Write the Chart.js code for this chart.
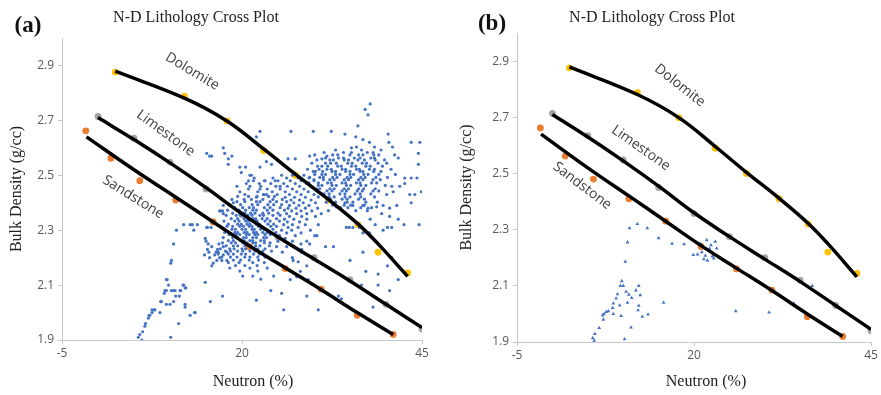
<!DOCTYPE html>
<html>
<head>
<meta charset="utf-8">
<script src="https://cdn.jsdelivr.net/npm/chart.js@4.4.0/dist/chart.umd.min.js"></script>
<style>
  html, body { margin: 0; padding: 0; background: #fff; }
  #wrap { position: relative; width: 881px; height: 395px; overflow: hidden; }
  canvas { position: absolute; top: 0; }
  #chartA { left: 0; }
  #chartB { left: 440px; }
</style>
</head>
<body>
<div id="wrap">
  <canvas id="chartA" width="440" height="395"></canvas>
  <canvas id="chartB" width="441" height="395"></canvas>
</div>
<script>
// N-D lithology cross plot, two panels

// axis ticks
const xTicks = [-5, 20, 45];
const yTicks = [1.9, 2.1, 2.3, 2.5, 2.7, 2.9];

// lithology reference points
const dolomiteX = [2.4, 12, 17.9, 23, 27.4, 32, 36.1, 38.9, 43];
const dolomiteY = [2.876, 2.788, 2.698, 2.59, 2.5, 2.41, 2.32, 2.22, 2.144];
const limestoneX = [0, 5, 10, 15, 20, 25, 30, 35, 40, 45];
const limestoneY = [2.714, 2.635, 2.548, 2.45, 2.357, 2.275, 2.2, 2.12, 2.03, 1.94];
const sandstoneX = [-1.7, 1.8, 5.8, 10.8, 16, 21, 26, 31, 36, 41];
const sandstoneY = [2.662, 2.562, 2.48, 2.41, 2.33, 2.24, 2.16, 2.085, 1.99, 1.92];

// fitted trend lines
const dolomiteFitX = [2.4, 12, 17.9, 23, 27.4, 32, 36.1, 38.9, 43];
const dolomiteFitY = [2.879, 2.781, 2.698, 2.596, 2.504, 2.412, 2.323, 2.25, 2.132];
const limestoneFitX = [0, 5, 10, 15, 20, 25, 30, 35, 40, 45];
const limestoneFitY = [2.71, 2.63, 2.545, 2.455, 2.36, 2.275, 2.195, 2.115, 2.03, 1.945];
const sandstoneFitX = [-1.6, 5, 10.8, 16, 21, 26, 31, 36, 41];
const sandstoneFitY = [2.64, 2.52, 2.42, 2.33, 2.243, 2.163, 2.083, 2.0, 1.92];

// panel (a) well log points: [neutron, density]
const tailA = [[5.6,1.91],[6.1,1.90],[6.2,1.93],[5.8,1.92],[6.5,1.95],[6.6,1.96],[7.0,1.98],[7.1,1.99],[7.2,1.99],[7.5,2.00],[7.5,2.01],[7.8,2.01],[7.9,2.01],[8.6,2.00],[8.7,2.04],[8.8,2.04],[9.2,2.07],[9.3,2.08],[9.5,2.08],[9.5,2.12],[9.6,2.12],[9.8,2.10],[9.5,2.03],[10.0,2.03],[10.2,2.08],[10.5,2.08],[10.7,2.08],[10.5,2.04],[10.8,2.06],[11.2,1.96],[11.3,2.06],[11.4,2.08],[11.5,2.08],[11.8,2.10],[11.9,2.10],[12.1,2.09],[12.2,2.09],[12.1,2.03],[12.1,2.02],[12.8,1.99],[13.4,2.00],[13.5,2.00],[10.1,1.91],[10.1,2.18],[10.2,2.19],[10.5,2.25],[10.9,2.30],[14.9,2.11],[15.6,2.04],[17.3,2.06],[15.8,2.17]];
const sparseA = [[11.9,2.32],[12.8,2.32],[13.1,2.32],[13.3,2.30],[13.8,2.32],[15.2,2.31],[15.7,2.31],[14.9,2.27],[15.0,2.26],[16.8,2.25],[15.2,2.23],[15.4,2.22],[16.4,2.22],[16.7,2.22],[16.9,2.20],[17.4,2.21],[17.9,2.22],[17.2,2.19],[17.9,2.19],[17.4,2.24],[17.0,2.37],[17.4,2.36],[17.3,2.37],[15.1,2.58],[15.5,2.57],[17.4,2.60],[17.6,2.58],[18.1,2.56],[18.1,2.54],[18.6,2.57],[15.8,2.57],[19.7,2.53],[20.5,2.53],[19.9,2.51],[21.1,2.50],[21.3,2.50],[21.7,2.49],[20.9,2.48],[21.6,2.48],[22.5,2.53],[23.4,2.55],[24.1,2.54],[26.4,2.56],[23.2,2.48],[21.1,2.46],[22.4,2.47],[20.6,2.47],[19.3,2.46],[20.9,2.45],[22.5,2.45],[19.7,2.44],[20.4,2.43],[22.0,2.42],[23.0,2.43],[23.4,2.43],[24.6,2.48],[25.3,2.46],[17.4,2.39],[18.8,2.40],[16.9,2.37],[15.1,2.31],[22.5,2.66],[22.0,2.64],[26.8,2.66],[29.9,2.66],[27.4,2.56],[29.4,2.57],[31.1,2.56],[31.8,2.57],[15.8,2.24],[16.2,2.21],[16.5,2.19],[15.5,2.20],[16.0,2.18],[16.6,2.23],[14.8,2.21],[15.3,2.25]];
const rightA = [[37.1,2.74],[37.8,2.76],[37.5,2.72],[32.4,2.66],[34.3,2.65],[36.1,2.68],[35.8,2.64],[36.8,2.63],[37.7,2.62],[40.3,2.65],[40.4,2.62],[43.5,2.62],[44.7,2.62],[35.2,2.60],[44.5,2.58],[44.5,2.54],[42.6,2.49],[43.5,2.49],[44.3,2.49],[44.9,2.44],[44.0,2.43],[43.3,2.43],[42.6,2.47],[41.9,2.46],[40.8,2.46],[41.0,2.44],[40.1,2.43],[33.1,2.385],[34.3,2.40],[35.4,2.39],[36.8,2.39],[37.5,2.38],[38.7,2.385],[39.6,2.39],[40.5,2.38],[41.5,2.39],[43.5,2.40],[39.4,2.36],[40.5,2.35],[41.7,2.34],[42.5,2.32],[44.6,2.32],[37.8,2.34],[38.5,2.32],[39.6,2.30],[40.2,2.31],[40.8,2.31],[34.5,2.31],[34.9,2.31],[35.4,2.31],[36.3,2.31],[36.8,2.29],[37.7,2.29],[32.7,2.24],[35.0,2.19],[36.8,2.22],[40.8,2.20],[40.2,2.17],[37.2,2.15],[38.9,2.14],[40.5,2.08],[41.7,2.12],[38.9,2.10],[36.6,2.10],[38.2,2.02],[33.4,2.06],[33.8,2.05],[22.0,2.045],[24.0,2.08],[25.5,2.07],[25.8,2.01],[29.0,2.06],[30.6,2.01],[26.7,2.12],[27.6,2.13],[28.1,2.15],[29.2,2.12],[27.1,2.19],[28.3,2.23],[29.4,2.25],[30.1,2.28],[27.8,2.185],[29.0,2.17]];

// dense groups as rows: [density, [neutron values]]
const cluster1Rows = [
  [2.423, [19.4, 20.9, 22.1, 23.7, 24.5]],
  [2.412, [18.6, 20.3, 21.3, 22.9, 24.3, 25.6]],
  [2.404, [19.3, 20.4, 22.0, 22.5, 23.9, 24.8, 26.2]],
  [2.393, [18.2, 19.8, 21.4, 22.2, 23.6, 24.4, 25.5]],
  [2.382, [19.0, 20.1, 21.0, 21.6, 23.1, 23.9, 25.3]],
  [2.373, [18.0, 19.6, 20.5, 21.5, 22.0, 23.5, 24.3, 25.9]],
  [2.362, [18.7, 19.7, 20.4, 21.2, 21.8, 22.9, 23.7, 25.0]],
  [2.354, [17.8, 19.2, 19.8, 20.8, 21.4, 22.5, 23.0, 24.3, 25.3]],
  [2.342, [18.5, 19.4, 20.3, 20.8, 21.5, 21.9, 22.8, 23.5, 24.8]],
  [2.333, [17.5, 19.0, 19.6, 20.5, 20.9, 21.7, 22.1, 23.2, 23.9, 25.2]],
  [2.322, [18.1, 19.4, 19.9, 20.7, 21.1, 22.0, 22.4, 23.6, 24.4]],
  [2.314, [17.9, 18.7, 19.7, 20.2, 21.0, 21.4, 22.3, 22.7, 24.0, 24.8]],
  [2.303, [18.6, 19.1, 20.0, 20.5, 21.4, 21.7, 22.6, 23.1, 24.3]],
  [2.292, [17.6, 19.0, 19.4, 20.3, 20.7, 21.6, 22.0, 22.9, 23.5, 24.7]],
  [2.284, [18.2, 19.2, 19.7, 20.6, 21.0, 21.8, 22.2, 23.2, 23.9]],
  [2.273, [17.4, 18.7, 19.3, 20.2, 20.6, 21.5, 22.0, 23.0, 23.4]],
  [2.262, [18.1, 18.8, 19.8, 20.3, 21.1, 21.5, 22.6, 23.1]],
  [2.254, [17.3, 18.5, 19.1, 20.1, 20.7, 21.5, 21.9, 23.1, 23.9]],
  [2.243, [17.8, 18.8, 19.4, 20.4, 21.0, 21.9, 22.5, 23.8]],
  [2.232, [17.0, 18.3, 18.9, 20.0, 20.5, 21.6, 22.2, 23.2]],
  [2.224, [17.7, 18.4, 19.4, 20.1, 21.1, 21.8, 22.9, 24.1]],
  [2.213, [16.7, 18.1, 18.8, 19.9, 20.5, 21.6, 22.4]],
  [2.202, [17.2, 18.4, 19.3, 20.4, 21.1, 22.2, 23.2]],
  [2.191, [18.8, 19.8, 21.0, 22.3]],
  [2.182, [18.1, 19.6, 21.5, 23.1]],
  [2.171, [19.1, 20.4, 22.1]],
  [2.162, [18.3, 21.1, 23.5]],
  [2.151, [19.7, 22.2]],
  [2.133, [20.1, 21.5, 24.4]],
  [2.122, [22.6]]
];
const bandRows = [
  [2.50, [25.5, 27.0, 28.6]],
  [2.49, [24.3, 26.2, 27.8, 29.3]],
  [2.48, [23.1, 25.0, 26.7, 28.2, 30.0]],
  [2.47, [24.0, 25.8, 27.4, 29.0]],
  [2.46, [22.6, 24.7, 26.3, 28.0, 29.6]],
  [2.45, [23.5, 25.3, 27.0, 28.6, 30.4]],
  [2.44, [22.2, 24.2, 26.0, 27.6, 29.2]],
  [2.43, [23.0, 24.9, 26.6, 28.2, 30.0]],
  [2.42, [26.0, 27.3, 28.8]],
  [2.41, [26.8, 28.0, 29.6]],
  [2.40, [27.2, 28.5, 30.2]],
  [2.39, [26.6, 27.9, 29.3]],
  [2.38, [26.4, 27.5, 28.8, 30.5]],
  [2.37, [26.9, 28.2, 29.7]],
  [2.36, [26.2, 27.6, 29.0, 31.0]],
  [2.35, [26.6, 28.3, 30.2]],
  [2.34, [25.9, 27.2, 29.0]],
  [2.33, [26.3, 28.0]],
  [2.32, [25.8, 27.0, 28.8, 30.6]],
  [2.31, [26.4, 27.8]],
  [2.30, [25.5, 26.9, 29.5]],
  [2.29, [26.2, 28.2]],
  [2.28, [25.2, 27.4, 30.4]],
  [2.27, [26.0]],
  [2.26, [25.0, 27.0, 29.0]],
  [2.25, [28.2]],
  [2.24, [24.8, 26.2, 31.6]],
  [2.22, [25.6, 28.3]],
  [2.20, [27.0, 29.8]]
];
const cluster2Rows = [
  [2.603, [35.9, 38.4, 40.9]],
  [2.592, [33.0, 36.6, 39.3]],
  [2.583, [31.4, 34.1, 35.2, 37.4, 38.2]],
  [2.574, [30.1, 32.6, 33.3, 35.0, 36.2, 36.8, 38.3, 39.0, 41.2]],
  [2.563, [31.6, 33.4, 34.1, 35.6, 36.4, 37.9, 38.4, 41.7]],
  [2.556, [30.4, 32.2, 32.7, 34.2, 34.8, 36.1, 37.0, 38.5, 39.8]],
  [2.544, [29.7, 31.6, 32.3, 33.1, 34.7, 35.3, 36.7, 37.3, 38.9, 40.1]],
  [2.533, [30.5, 31.1, 31.9, 33.3, 33.8, 35.2, 35.8, 37.2, 37.8, 39.5]],
  [2.522, [29.1, 30.7, 31.8, 32.4, 33.9, 34.4, 35.9, 36.3, 37.7, 38.4, 40.7]],
  [2.514, [29.9, 30.2, 31.2, 32.5, 33.0, 34.4, 35.0, 36.4, 36.8, 38.3, 39.3]],
  [2.503, [30.1, 31.1, 31.6, 33.0, 33.6, 35.0, 35.5, 36.9, 37.5, 39.0, 41.3]],
  [2.492, [29.4, 30.8, 31.3, 32.6, 33.2, 34.6, 35.1, 36.5, 37.1, 38.6, 40.2]],
  [2.484, [30.0, 31.3, 32.2, 32.8, 34.2, 34.8, 36.2, 36.8, 38.2, 39.2]],
  [2.472, [29.3, 30.6, 31.9, 32.4, 33.9, 34.4, 35.9, 36.4, 38.0, 38.7]],
  [2.463, [30.6, 31.1, 32.5, 33.1, 34.5, 35.1, 36.5, 37.2, 39.9]],
  [2.451, [30.8, 32.2, 32.8, 34.2, 34.8, 36.2, 36.9, 38.5]],
  [2.443, [30.4, 31.8, 32.5, 33.9, 34.5, 36.0, 36.7, 38.2, 39.0]],
  [2.432, [31.4, 32.1, 33.6, 34.3, 35.7, 36.4, 37.9]],
  [2.421, [30.6, 32.1, 32.8, 34.3, 35.0, 36.5, 38.4]],
  [2.413, [32.3, 33.9, 34.6, 36.2, 37.0]],
  [2.402, [31.7, 33.0, 34.6, 35.4, 37.2, 38.8]],
  [2.391, [32.6, 34.2, 35.1, 37.0]],
  [2.382, [33.7, 34.7, 36.5, 38.0]],
  [2.371, [32.0, 35.8, 37.4]]
];

// panel (b) cleaned log points
const pointsB = [[12.0,2.32],[10.9,2.305],[13.4,2.305],[15.0,2.27],[10.6,2.255],[16.9,2.25],[18.6,2.248],[19.9,2.21],[20.5,2.212],[21.1,2.22],[21.6,2.207],[22.2,2.233],[22.5,2.22],[23.0,2.257],[23.2,2.233],[22.8,2.198],[10.3,2.186],[9.8,2.117],[9.6,2.10],[10.0,2.10],[12.2,2.10],[10.4,2.079],[9.2,2.07],[10.8,2.069],[11.8,2.084],[12.4,2.067],[11.2,2.057],[9.0,2.055],[8.6,2.037],[9.5,2.03],[10.6,2.04],[12.2,2.029],[12.1,2.013],[8.5,2.021],[7.9,2.01],[7.6,2.007],[7.3,2.0],[7.1,1.995],[8.6,2.0],[9.7,1.993],[12.7,1.99],[13.5,1.998],[15.7,2.04],[7.2,1.98],[6.6,1.95],[11.1,1.952],[6.0,1.929],[5.7,1.914],[5.9,1.905],[10.2,1.91],[36.7,2.10],[25.9,2.01],[30.6,2.005],[34.1,2.037],[21.9,2.19],[22.4,2.245],[20.9,2.25],[22.6,2.205],[21.4,2.195],[21.8,2.263]];

const zip = (xs, ys) => xs.map((x, i) => ({ x, y: ys[i] }));
const fromPairs = pairs => pairs.map(([x, y]) => ({ x, y }));
const fromRows = rows => rows.flatMap(([y, xs]) => xs.map(x => ({ x, y })));

const litho = [
  { name: 'Dolomite', color: '#FFC000', xs: dolomiteX, ys: dolomiteY, fx: dolomiteFitX, fy: dolomiteFitY },
  { name: 'Limestone', color: '#A5A5A5', xs: limestoneX, ys: limestoneY, fx: limestoneFitX, fy: limestoneFitY },
  { name: 'Sandstone', color: '#ED7D31', xs: sandstoneX, ys: sandstoneY, fx: sandstoneFitX, fy: sandstoneFitY }
];

// Titles, axis titles and curve names
const annotate = {
  id: 'annotate',
  afterDraw(chart, args, o) {
    const { ctx, chartArea: area, scales: { x, y } } = chart;
    ctx.save();
    ctx.fillStyle = '#111';
    ctx.textAlign = 'center';
    ctx.textBaseline = 'middle';
    ctx.font = 'bold 23px "Liberation Serif"';
    ctx.fillText(o.letter, o.letterX, o.letterY);
    ctx.font = '16px "Liberation Serif"';
    ctx.fillStyle = '#222';
    ctx.fillText('N-D Lithology Cross Plot', o.titleX, 18);
    ctx.fillText('Neutron (%)', o.xTitleX, 382);
    ctx.save();
    ctx.translate(o.yTitleX, (area.top + area.bottom) / 2);
    ctx.rotate(-Math.PI / 2);
    ctx.fillText('Bulk Density (g/cc)', 0, 0);
    ctx.restore();

    ctx.font = '14px "Open Sans"';
    ctx.fillStyle = '#404040';
    o.labels.forEach(l => {
      ctx.save();
      ctx.translate(x.getPixelForValue(l.x), y.getPixelForValue(l.y));
      ctx.rotate(l.angle * Math.PI / 180);
      ctx.fillText(l.text, 0, 0);
      ctx.restore();
    });
    ctx.restore();
  }
};

const axisFont = { family: 'Open Sans', size: 12 };

const makePanel = (id, cfg) => {
  const datasets = [];
  litho.forEach(l => {
    datasets.push({
      type: 'line', label: l.name + ' fit', data: zip(l.fx, l.fy),
      borderColor: '#000', borderWidth: 3.5, pointRadius: 0,
      tension: 0.4, fill: false, order: 0
    });
  });
  datasets.push({
    label: 'Log data', data: cfg.points, order: 1,
    backgroundColor: '#4472C4', borderColor: '#4472C4', borderWidth: 0,
    pointStyle: cfg.pointStyle, pointRadius: cfg.pointRadius
  });
  litho.forEach(l => {
    datasets.push({
      label: l.name, data: zip(l.xs, l.ys), order: 2,
      backgroundColor: l.color, borderColor: l.color, borderWidth: 0, pointRadius: 3.4
    });
  });

  return new Chart(document.getElementById(id), {
    type: 'scatter',
    data: { datasets },
    plugins: [annotate],
    options: {
      responsive: false,
      animation: false,
      devicePixelRatio: 1,
      layout: { padding: cfg.padding },
      plugins: {
        legend: { display: false },
        tooltip: { enabled: false },
        annotate: cfg.notes
      },
      scales: {
        x: {
          type: 'linear', min: -5, max: 45,
          afterBuildTicks: s => { s.ticks = xTicks.map(v => ({ value: v })); },
          afterFit: s => { s.height = cfg.xHeight; },
          ticks: { font: axisFont, color: '#595959', padding: 2, maxRotation: 0 },
          grid: { drawOnChartArea: false, tickLength: 4, color: '#c8c8c8' },
          border: { color: '#c8c8c8' }
        },
        y: {
          type: 'linear', min: 1.9, max: 3.0,
          afterBuildTicks: s => { s.ticks = yTicks.map(v => ({ value: v })); },
          afterFit: s => { s.width = cfg.yWidth; },
          ticks: { font: axisFont, color: '#595959', padding: 4, callback: v => v.toFixed(1) },
          grid: { drawOnChartArea: false, tickLength: 4, color: '#c8c8c8' },
          border: { color: '#c8c8c8' }
        }
      }
    }
  });
};

makePanel('chartA', {
  points: [...fromPairs(tailA), ...fromPairs(sparseA), ...fromPairs(rightA),
           ...fromRows(cluster1Rows), ...fromRows(bandRows), ...fromRows(cluster2Rows)],
  pointStyle: 'circle', pointRadius: 1.6,
  padding: { left: 4, top: 38, right: 18, bottom: 0 },
  yWidth: 58, xHeight: 55,
  notes: {
    letter: '(a)', letterX: 28, letterY: 26, titleX: 196, xTitleX: 253, yTitleX: 17,
    labels: [
      { text: 'Dolomite', x: 13.1, y: 2.878, angle: 31 },
      { text: 'Limestone', x: 9.4, y: 2.653, angle: 36 },
      { text: 'Sandstone', x: 4.9, y: 2.42, angle: 32 }
    ]
  }
});

makePanel('chartB', {
  points: fromPairs(pointsB),
  pointStyle: 'triangle', pointRadius: 2.2,
  padding: { left: 14, top: 33, right: 10, bottom: 0 },
  yWidth: 63, xHeight: 53,
  notes: {
    letter: '(b)', letterX: 52, letterY: 24, titleX: 212, xTitleX: 266, yTitleX: 27,
    labels: [
      { text: 'Dolomite', x: 18.0, y: 2.813, angle: 38 },
      { text: 'Limestone', x: 12.5, y: 2.59, angle: 35 },
      { text: 'Sandstone', x: 4.2, y: 2.456, angle: 37 }
    ]
  }
});
</script>
</body>
</html>
